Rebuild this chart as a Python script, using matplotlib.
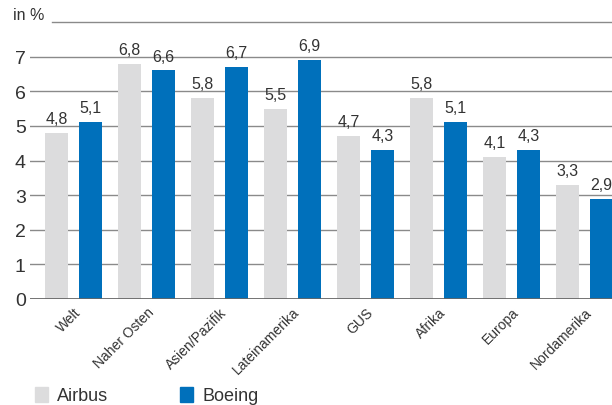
import matplotlib
matplotlib.use("Agg")
import matplotlib.pyplot as plt
from matplotlib.patches import Rectangle
import numpy as np

categories = ["Welt", "Naher Osten", "Asien/Pazifik", "Lateinamerika", "GUS", "Afrika", "Europa", "Nordamerika"]
airbus = [4.8, 6.8, 5.8, 5.5, 4.7, 5.8, 4.1, 3.3]
boeing = [5.1, 6.6, 6.7, 6.9, 4.3, 5.1, 4.3, 2.9]
yticks = [0, 1, 2, 3, 4, 5, 6, 7]

plt.rcParams['font.family'] = ['Liberation Sans Narrow', 'Liberation Sans', 'DejaVu Sans']
c_air = "#dcdcdd"
c_boe = "#0070bb"
txt = "#333333"

fig = plt.figure(figsize=(6.12, 4.06), dpi=100)
ax = fig.add_axes([30/612, 106/406, 582/612, 277/406])
x = np.arange(len(categories))
w = 0.315
off = 0.233
ax.bar(x - off, airbus, w, color=c_air, zorder=3)
ax.bar(x + off, boeing, w, color=c_boe, zorder=3)
for xi, a, b in zip(x, airbus, boeing):
    ax.text(xi - off, a + 0.2, f"{a:.1f}".replace(".", ","), ha="center", va="bottom", fontsize=11.5, color=txt)
    ax.text(xi + off, b + 0.2, f"{b:.1f}".replace(".", ","), ha="center", va="bottom", fontsize=11.5, color=txt)

ax.set_xlim(-0.6, 7.38)
ax.set_ylim(0, 8)
for y in yticks[1:]:
    ax.axhline(y, color="#8a8a8a", lw=1.0, zorder=1)
ax.axhline(8, xmin=22/582, xmax=1, color="#8a8a8a", lw=1.0, zorder=1, clip_on=False)
ax.axhline(0, color="#666666", lw=2.0, zorder=4)
for s in ax.spines.values():
    s.set_visible(False)
ax.set_yticks(yticks)
ax.set_yticklabels([str(v) for v in yticks], fontsize=14, color=txt)
ax.tick_params(axis="y", length=0, pad=3)
ax.set_xticks(x)
ax.set_xticklabels(categories, rotation=45, ha="right", va="top", rotation_mode="anchor", fontsize=10, color=txt)
ax.tick_params(axis="x", length=0, pad=4)
fig.text(13/612, 1 - 15/406, "in %", fontsize=11.5, color=txt, va="center", ha="left")

# legend
fig.patches.append(Rectangle((35/612, 1 - 403/406), 13/612, 15/406, transform=fig.transFigure, color=c_air))
fig.text(57/612, 1 - 397/406, "Airbus", fontsize=13, color=txt, va="center")
fig.patches.append(Rectangle((180/612, 1 - 403/406), 13/612, 15/406, transform=fig.transFigure, color=c_boe))
fig.text(203/612, 1 - 397/406, "Boeing", fontsize=13, color=txt, va="center")

fig.savefig("out.png", dpi=100)
